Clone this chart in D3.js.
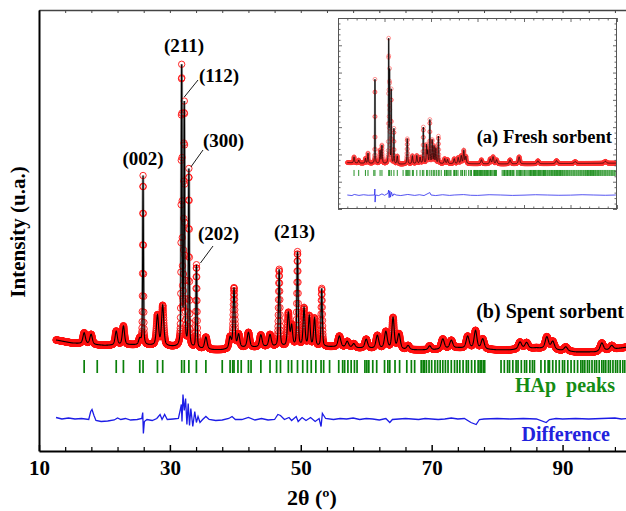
<!DOCTYPE html>
<html><head><meta charset="utf-8">
<script src="https://cdn.jsdelivr.net/npm/d3@7"></script>
<style>body{margin:0;background:#fff} svg{display:block} text{font-family:"Liberation Serif","Times New Roman",serif;font-weight:bold}</style>
</head><body><svg id="c" width="626" height="511"></svg>
<script>
// ================= DATA =================
// Main panel: (b) spent sorbent. Intensities in arbitrary counts.
const xMajorTicks = [10, 30, 50, 70, 90];
const xMinorTicks = [14, 18, 22, 26, 34, 38, 42, 46, 54, 58, 62, 66, 74, 78, 82, 86, 94, 98];
const spentStart = 12.6, spentEnd = 100;
// background knots [2θ, counts]
const spentBackground = [[12.6,1110],[15,1080],[20,1055],[24,1060],[27,1055],[30.5,1040],[36.5,1010],[38,1010],[41,1030],[45,1040],[55,1040],[58,1030],[67,1010],[70,1010],[74,1030],[80,1010],[82,1010],[86,1030],[92,990],[95,990],[100,1040]];
// reflections [2θ, height, FWHM]
const spentPeaks = [[16.9,110,0.45],[17.96,100,0.45],[21.8,140,0.4],[22.9,190,0.4],[25.4,60,0.4],[25.9,1690,0.14],[28.1,300,0.4],[28.9,400,0.4],[31.8,2780,0.16],[32.2,2400,0.16],[32.9,1770,0.16],[34.06,830,0.18],[35.5,120,0.45],[39.2,110,0.4],[39.8,600,0.3],[40.5,130,0.4],[42.0,150,0.45],[43.9,120,0.45],[45.3,120,0.45],[46.7,770,0.24],[48.1,330,0.35],[48.6,200,0.35],[49.5,940,0.22],[50.5,380,0.32],[51.3,300,0.32],[52.1,280,0.32],[53.2,580,0.22],[55.9,110,0.5],[57.1,60,0.5],[58.1,40,0.5],[60.0,90,0.5],[61.7,130,0.5],[63.0,170,0.5],[64.1,310,0.42],[65.0,150,0.5],[66.4,40,0.5],[69.7,40,0.5],[71.7,100,0.55],[73.0,80,0.55],[75.5,120,0.55],[76.7,180,0.5],[77.8,100,0.55],[83.5,70,0.6],[84.5,60,0.6],[87.6,120,0.6],[88.5,80,0.6],[90.5,40,0.6],[96.0,80,0.6],[97.5,40,0.6]];
// difference curve residuals [2θ, counts]
const spentDiff = [[12.6,10],[13.5,-5],[14.5,5],[15.5,-5],[16.5,0],[17.6,-10],[17.9,70],[18.1,90],[18.4,30],[18.7,-20],[19.5,-30],[20.5,-25],[21.5,-15],[22.0,5],[22.5,-10],[23.2,0],[24.0,-15],[25.0,-10],[25.7,0],[25.85,60],[25.95,-150],[26.1,-30],[26.5,-10],[27.3,-20],[28.0,0],[28.5,40],[28.8,-10],[29.2,40],[29.6,-10],[30.5,-5],[31.3,0],[31.6,90],[31.75,140],[31.85,-30],[32.0,240],[32.2,80],[32.4,200],[32.6,-60],[32.8,150],[33.0,-70],[33.2,100],[33.5,-80],[33.8,70],[34.05,-40],[34.3,20],[34.6,-40],[35.0,-10],[35.5,20],[36.0,-10],[37,-20],[38,-15],[39.0,0],[39.5,20],[40.0,-10],[41,-10],[42,10],[43,-15],[44,0],[45,-15],[46,-10],[46.5,40],[46.9,30],[47.5,-10],[48.2,10],[48.6,-20],[49.3,20],[49.6,-30],[50.2,10],[50.8,-20],[51.5,10],[52.2,-30],[52.8,0],[53.1,-80],[53.3,50],[53.8,0],[55,-10],[56,0],[57,-5],[58,5],[59,-10],[60,0],[61,-5],[62,-15],[63,0],[63.6,-40],[64,-10],[65,-5],[66,0],[67,-5],[68,-10],[69,0],[70,-5],[71,-10],[72,-5],[73,5],[74,-5],[75,0],[76,-40],[76.8,-60],[77.3,-10],[78,-5],[80,0],[82,-5],[84,0],[86,-5],[87.5,-40],[88,-10],[89,0],[90,-5],[92,0],[94,-5],[96,0],[98,5],[99,-5],[100,0]];
// HAp reflection markers (2θ)
const hapTicks = [16.9,18.9,21.8,22.9,25.4,25.9,28.1,28.9,31.8,32.2,32.9,34.05,35.5,38.0,39.2,39.6,39.8,40.4,40.9,42.0,42.4,43.9,45.3,46.3,46.9,48.1,48.6,49.5,50.3,51.0,51.6,52.3,53.1,53.5,54.4,55.8,56.4,56.7,57.2,57.7,58.2,58.6,59.8,60.1,60.4,61.0,61.6,62.8,63.3,63.6,64.4,65.1,66.2,66.9,67.4,68.4,68.7,68.9,69.2,69.6,70.0,70.5,70.9,71.3,71.7,72.1,72.5,73.0,73.5,73.9,74.3,74.8,75.3,75.6,76.1,76.6,77.1,77.4,77.6,77.9,78.1,80.6,81.1,81.6,81.9,82.4,82.9,83.2,83.7,84.2,84.5,85.0,85.4,85.7,86.7,87.3,87.8,88.0,88.5,89.0,89.5,90.0,90.3,90.8,91.3,91.8,92.3,92.8,93.1,93.4,93.8,94.1,94.5,94.9,95.2,95.6,96.0,96.3,96.6,97.0,97.3,97.7,98.1,98.4,98.8,99.2,99.5];
const hapTicksHigh = [100.0,100.4,100.9,101.3,101.8,102.2,102.6,103.1,103.5,104.0,104.4,104.9,105.3,105.7,106.2,106.6,107.1,107.5,108.0,108.4,108.8,109.3,109.7,110.2,110.6,111.1,111.5,111.9,112.4,112.8,113.3,113.7,114.2,114.6,115.0,115.5,115.9,116.4,116.8,117.3,117.7,118.1,118.6,119.0,119.5,119.9,120.4,120.8,121.3,121.7,122.1,122.6,123.0,123.5,123.9,124.4,124.8,125.2,125.7,126.1,126.6,127.0,127.5,127.9,128.3,128.8,129.2];
const hklLabels = ['(002)', '(211)', '(112)', '(300)', '(202)', '(213)'];

// Inset: (a) fresh sorbent
const insetMajorX = [10, 30, 50, 70, 90, 110, 130];
const insetMinorX = [14,18,22,26,34,38,42,46,54,58,62,66,74,78,82,86,94,98,102,106,114,118,122,126];
const insetMajorY = [0,1000,2000,3000,4000,5000,6000,7000];
const insetMinorY = [200,400,600,800,1200,1400,1600,1800,2200,2400,2600,2800,3200,3400,3600,3800,4200,4400,4600,4800,5200,5400,5600,5800,6200,6400,6600,6800];
const freshStart = 14, freshEnd = 129.5;
const freshBackground = [[14,1700],[20,1680],[30,1660],[37,1640],[45,1670],[60,1660],[80,1650],[100,1660],[129.5,1680]];
const freshPeaks = [[16.9,220,0.45],[18.9,110,0.45],[21.8,180,0.4],[22.9,370,0.4],[25.9,3080,0.22],[28.1,480,0.4],[28.9,660,0.4],[31.8,4470,0.22],[32.2,3300,0.22],[32.9,2680,0.22],[34.05,1280,0.25],[35.5,290,0.45],[39.8,920,0.35],[42.0,290,0.45],[43.9,290,0.45],[45.3,220,0.45],[46.7,1320,0.3],[48.1,660,0.35],[48.6,440,0.35],[49.5,1580,0.3],[50.5,840,0.35],[51.3,620,0.35],[52.1,550,0.35],[53.2,990,0.3],[55.9,180,0.55],[57.1,150,0.55],[60.0,180,0.55],[61.7,220,0.55],[63.0,290,0.55],[64.1,480,0.5],[65.0,260,0.55],[71.7,150,0.65],[75.5,180,0.65],[76.7,260,0.65],[78.2,150,0.65],[84.0,150,0.75],[87.9,260,0.75],[96.0,110,0.85],[104,110,0.95],[112,70,0.95],[125,70,1.0]];
const freshDiff = [[14,0],[16,-20],[17,20],[19,-15],[21,10],[23,-10],[25.7,0],[25.85,220],[25.95,-260],[26.2,0],[27.5,-20],[28.9,40],[30,-10],[31.5,60],[31.8,180],[32.0,-100],[32.3,150],[32.6,-80],[33,100],[33.5,-40],[34,40],[35,0],[37,-20],[40,20],[43,-15],[45,10],[47,-20],[49.5,90],[50,0],[52,-20],[55,10],[58,-15],[60,0],[64,15],[67,-10],[70,-15],[75,10],[80,0],[85,-15],[90,-5],[95,10],[100,0],[105,-10],[110,-5],[115,10],[120,0],[125,-10],[129.5,0]];

// ================= DRAWING =================
const svg = d3.select('#c');
const FONT = '"Liberation Serif","Times New Roman",serif';

function makeProfile(peaks, bgKnots, start, end, step) {
  const bg = d3.scaleLinear().domain(bgKnots.map(d => d[0])).range(bgKnots.map(d => d[1]));
  const n = Math.round((end - start) / step);
  const eta = 0.5, c = 4 * Math.LN2;
  return d3.range(n + 1).map(k => {
    const t = +(start + k * step).toFixed(3);
    let v = bg(t);
    for (const p of peaks) {
      const d = (t - p[0]) / p[2];
      if (Math.abs(d) > 60) continue;
      v += p[1] * (eta / (1 + 4 * d * d) + (1 - eta) * Math.exp(-c * d * d));
    }
    return [t, v];
  });
}

// ---------- main panel ----------
const x = d3.scaleLinear().domain([10, 100]).range([39, 628]);
const y = d3.scaleLinear().domain([0, 4410]).range([451, 10]);
const main = svg.append('g');

const spent = makeProfile(spentPeaks, spentBackground, spentStart, spentEnd, 0.02);
const line = d3.line().x(d => x(d[0])).y(d => y(d[1]));

main.append('path').attr('d', line(spent)).attr('fill', 'none').attr('stroke', '#a0a0a0').attr('stroke-width', 2.6);
main.append('g').selectAll('circle').data(spent).join('circle')
  .attr('cx', d => x(d[0])).attr('cy', d => y(d[1])).attr('r', 3.2)
  .attr('fill', 'none').attr('stroke', '#ff1010').attr('stroke-width', 0.9);
main.append('path').attr('d', line(spent)).attr('fill', 'none').attr('stroke', '#000').attr('stroke-width', 1.1);

// HAp markers
main.append('g').selectAll('line').data(hapTicks).join('line')
  .attr('x1', d => x(d)).attr('x2', d => x(d)).attr('y1', y(910)).attr('y2', y(780))
  .attr('stroke', '#0a800a').attr('stroke-width', 1.7);

// difference
const diffOffset = 325;
main.append('path').attr('d', d3.line().x(d => x(d[0])).y(d => y(diffOffset + d[1]))(spentDiff))
  .attr('fill', 'none').attr('stroke', '#1c1ce6').attr('stroke-width', 1.3);

// axes
const axB = d3.axisBottom(x).tickValues(xMajorTicks).tickSize(-6).tickSizeOuter(0).tickPadding(9).tickFormat(d3.format('d'));
const gB = svg.append('g').attr('transform', 'translate(0,451)').call(axB);
gB.select('.domain').attr('stroke-width', 2);
gB.selectAll('.tick line').attr('stroke-width', 1.5);
gB.selectAll('text').attr('font-size', 21).attr('fill', '#000').style('font-family', FONT).style('font-weight', 'bold');
const gBm = svg.append('g').attr('transform', 'translate(0,451)')
  .call(d3.axisBottom(x).tickValues(xMinorTicks).tickSize(-4).tickSizeOuter(0).tickFormat(''));
gBm.select('.domain').remove();
gBm.selectAll('.tick line').attr('stroke-width', 1.2);

const gT = svg.append('g').attr('transform', 'translate(0,10)')
  .call(d3.axisTop(x).tickValues(xMajorTicks.concat(xMinorTicks)).tickSize(-3).tickSizeOuter(0).tickFormat(''));
gT.select('.domain').attr('stroke', '#444').attr('stroke-width', 1.6);
gT.selectAll('.tick line').attr('stroke', '#444');

const gL = svg.append('g').attr('transform', 'translate(39,0)')
  .call(d3.axisLeft(y).tickValues([]).tickSizeOuter(0));
gL.select('.domain').attr('stroke-width', 2);

// axis titles
svg.append('text').attr('transform', 'translate(25,232) rotate(-90)').attr('text-anchor', 'middle')
  .attr('font-size', 21).text('Intensity (u.a.)');
svg.append('text').attr('x', 312).attr('y', 505).attr('text-anchor', 'middle').attr('font-size', 22).text('2θ (º)');

// hkl labels and leader lines
const lab = svg.append('g').attr('font-size', 19);
lab.append('text').attr('x', 143).attr('y', 165).attr('text-anchor', 'middle').text(hklLabels[0]);
lab.append('text').attr('x', 184).attr('y', 52).attr('text-anchor', 'middle').text(hklLabels[1]);
lab.append('text').attr('x', 199).attr('y', 82).text(hklLabels[2]);
lab.append('text').attr('x', 203).attr('y', 147).text(hklLabels[3]);
lab.append('text').attr('x', 198).attr('y', 240).text(hklLabels[4]);
lab.append('text').attr('x', 274).attr('y', 238).text(hklLabels[5]);
const leaders = [[x(32.2), 97, 198, 80], [x(32.9) + 2, 167, 203, 150], [x(34.06) + 4, 263, 213, 246]];
svg.append('g').selectAll('line').data(leaders).join('line')
  .attr('x1', d => d[0]).attr('y1', d => d[1]).attr('x2', d => d[2]).attr('y2', d => d[3])
  .attr('stroke', '#000').attr('stroke-width', 0.9);

svg.append('text').attr('x', 624).attr('y', 318).attr('text-anchor', 'end').attr('font-size', 20).text('(b) Spent sorbent');
svg.append('text').attr('x', 615).attr('y', 392).attr('text-anchor', 'end').attr('font-size', 20)
  .attr('fill', '#148c14').style('white-space', 'pre').text('HAp  peaks');
svg.append('text').attr('x', 610).attr('y', 441).attr('text-anchor', 'end').attr('font-size', 20)
  .attr('fill', '#2222dd').text('Difference');

// ---------- inset ----------
const L = 338, R = 617, T = 18, B = 209;
const xi = d3.scaleLinear().domain([10, 130]).range([L, R]);
const yi = d3.scaleLinear().domain([0, 7000]).range([B, T]);
const inset = svg.append('g');
inset.append('rect').attr('x', L).attr('y', T).attr('width', R - L).attr('height', B - T).attr('fill', '#fff');
svg.append('clipPath').attr('id', 'ic').append('rect').attr('x', L).attr('y', T).attr('width', R - L).attr('height', B - T);
const ic = inset.append('g').attr('clip-path', 'url(#ic)');

const fresh = makeProfile(freshPeaks, freshBackground, freshStart, freshEnd, 0.05);
const iline = d3.line().x(d => xi(d[0])).y(d => yi(d[1]));
ic.append('path').attr('d', iline(fresh)).attr('fill', 'none').attr('stroke', '#a8a8a8').attr('stroke-width', 1.8);
ic.append('g').selectAll('circle').data(fresh).join('circle')
  .attr('cx', d => xi(d[0])).attr('cy', d => yi(d[1])).attr('r', 1.9)
  .attr('fill', 'none').attr('stroke', '#ff3030').attr('stroke-width', 0.7).attr('stroke-opacity', 0.7);
ic.append('path').attr('d', iline(fresh)).attr('fill', 'none').attr('stroke', '#000').attr('stroke-width', 0.7);
ic.append('g').selectAll('line').data(hapTicks.concat(hapTicksHigh)).join('line')
  .attr('x1', d => xi(d)).attr('x2', d => xi(d)).attr('y1', yi(1430)).attr('y2', yi(1210))
  .attr('stroke', '#118811').attr('stroke-width', 0.9);
ic.append('path').attr('d', d3.line().x(d => xi(d[0])).y(d => yi(513 + d[1]))(freshDiff))
  .attr('fill', 'none').attr('stroke', '#2a2aee').attr('stroke-width', 0.8);

function styleInsetAxis(g, col) { g.select('.domain').remove(); g.selectAll('.tick line').attr('stroke', col).attr('stroke-width', 0.8); }
const ib = inset.append('g').attr('transform', `translate(0,${B})`);
styleInsetAxis(ib.append('g').call(d3.axisBottom(xi).tickValues(insetMajorX).tickSize(-4).tickFormat('')), '#444');
styleInsetAxis(ib.append('g').call(d3.axisBottom(xi).tickValues(insetMinorX).tickSize(-2.5).tickFormat('')), '#444');
const it = inset.append('g').attr('transform', `translate(0,${T})`);
styleInsetAxis(it.append('g').call(d3.axisTop(xi).tickValues(insetMajorX).tickSize(-4).tickFormat('')), '#444');
styleInsetAxis(it.append('g').call(d3.axisTop(xi).tickValues(insetMinorX).tickSize(-2.5).tickFormat('')), '#444');
const il = inset.append('g').attr('transform', `translate(${L},0)`);
styleInsetAxis(il.append('g').call(d3.axisLeft(yi).tickValues(insetMajorY).tickSize(-4).tickFormat('')), '#444');
styleInsetAxis(il.append('g').call(d3.axisLeft(yi).tickValues(insetMinorY).tickSize(-2.5).tickFormat('')), '#444');
const ir = inset.append('g').attr('transform', `translate(${R},0)`);
styleInsetAxis(ir.append('g').call(d3.axisRight(yi).tickValues(insetMajorY).tickSize(-4).tickFormat('')), '#444');
styleInsetAxis(ir.append('g').call(d3.axisRight(yi).tickValues(insetMinorY).tickSize(-2.5).tickFormat('')), '#444');
inset.append('rect').attr('x', L + 0.5).attr('y', T + 0.5).attr('width', R - L - 1).attr('height', B - T - 1)
  .attr('fill', 'none').attr('stroke', '#555').attr('stroke-width', 1);
inset.append('text').attr('x', 612).attr('y', 143).attr('text-anchor', 'end').attr('font-size', 18.5).text('(a) Fresh sorbent');
</script></body></html>
